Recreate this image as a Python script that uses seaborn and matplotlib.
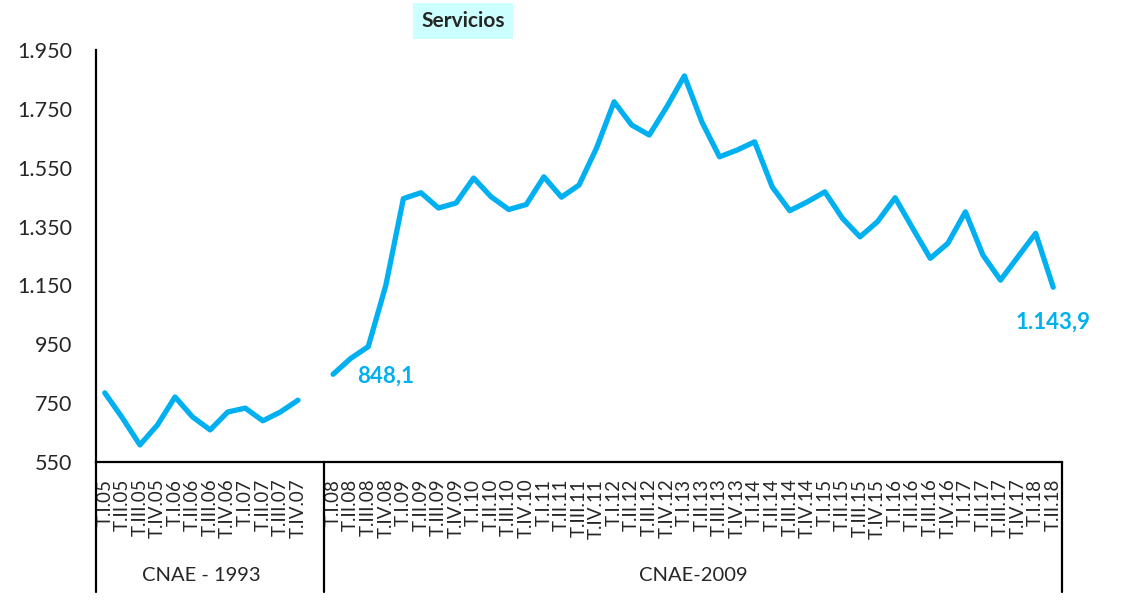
import matplotlib
matplotlib.use("Agg")
import matplotlib.pyplot as plt
import seaborn as sns
import numpy as np

# quarters, two classification periods
years_93 = ["05", "06", "07"]
years_09 = ["08", "09", "10", "11", "12", "13", "14", "15", "16", "17", "18"]
quarters = ["I", "II", "III", "IV"]

labels_93 = [f"T.{q}.{y}" for y in years_93 for q in quarters]
labels_09 = [f"T.{q}.{y}" for y in years_09 for q in quarters][:-2]  # ends at T.II.18

servicios_93 = [785, 700, 608, 676, 771, 703, 659, 720, 733, 690, 720, 760]
servicios_09 = [848.1, 902, 942, 1150, 1445, 1465, 1413, 1430, 1515, 1451,
                1408, 1425, 1519, 1450, 1491, 1617, 1774, 1695, 1661, 1757,
                1862, 1705, 1587, 1610, 1638, 1485, 1404, 1434, 1468, 1378,
                1315, 1367, 1448, 1344, 1242, 1293, 1400, 1253, 1168, 1248,
                1327, 1143.9]

group_names = ["CNAE - 1993", "CNAE-2009"]
y_ticks = [550, 750, 950, 1150, 1350, 1550, 1750, 1950]

BLUE = "#00B0F0"

sns.set_style("white")
plt.rcParams["font.family"] = ["Lato", "DejaVu Sans"]

fig = plt.figure(figsize=(11.26, 6.02), dpi=100)
ax = fig.add_axes([96 / 1126, 1 - 462 / 602, 966 / 1126, 412 / 602])

# positions: one empty slot between the two periods
x93 = np.arange(len(labels_93))
x09 = np.arange(len(labels_93) + 1, len(labels_93) + 1 + len(labels_09))

sns.lineplot(x=x93, y=servicios_93, ax=ax, color=BLUE, linewidth=3.8,
             solid_capstyle="round", solid_joinstyle="round")
sns.lineplot(x=x09, y=servicios_09, ax=ax, color=BLUE, linewidth=3.8,
             solid_capstyle="round", solid_joinstyle="round")

n_slots = len(labels_93) + 1 + len(labels_09)
ax.set_xlim(-0.5, n_slots - 0.5)
ax.set_ylim(550, 1950)

ax.set_xticks(np.concatenate([x93, x09]))
ax.set_xticklabels(labels_93 + labels_09, rotation=90, fontsize=13.5)
ax.set_yticks(y_ticks)
ax.set_yticklabels([f"{v:,}".replace(",", ".") for v in y_ticks], fontsize=15.5)
ax.tick_params(axis="x", length=0, pad=12)
ax.tick_params(axis="y", length=0, pad=17)

for s in ["top", "right"]:
    ax.spines[s].set_visible(False)
for s in ["left", "bottom"]:
    ax.spines[s].set_linewidth(1.6)
    ax.spines[s].set_color("black")

# vertical separators below the axis
trans = ax.get_xaxis_transform()
depth = -(592 - 462) / 412
for xv in [-0.5, len(labels_93) + 0.5, n_slots - 0.5]:
    ax.plot([xv, xv], [0, depth], transform=trans, color="black",
            linewidth=1.6, clip_on=False)

ax.text((x93[0] + x93[-1] + 1) / 2 - 0.5, depth + 0.04, group_names[0], transform=trans,
        ha="center", va="center", fontsize=14.5)
ax.text((x09[0] + x09[-1]) / 2, depth + 0.04, group_names[1], transform=trans,
        ha="center", va="center", fontsize=14.5)

# data labels for first and last value of the CNAE-2009 series
ax.annotate(f"{servicios_09[0]:.1f}".replace(".", ","), (x09[0], servicios_09[0]),
            xytext=(17, -1.5), textcoords="offset points", ha="left", va="center",
            color=BLUE, fontsize=16, fontweight="bold")
last = f"{servicios_09[-1]:,.1f}".replace(",", "X").replace(".", ",").replace("X", ".")
ax.annotate(last, (x09[-1], servicios_09[-1]),
            xytext=(0, -25), textcoords="offset points", ha="center", va="center",
            color=BLUE, fontsize=16, fontweight="bold")

fig.text(463 / 1126, 1 - 21 / 602, "Servicios", ha="center", va="center",
         fontsize=15, fontweight="bold",
         bbox=dict(boxstyle="square,pad=0.4", facecolor="#CCFFFF", edgecolor="none"))

fig.savefig("out.png", dpi=100, facecolor="white")
